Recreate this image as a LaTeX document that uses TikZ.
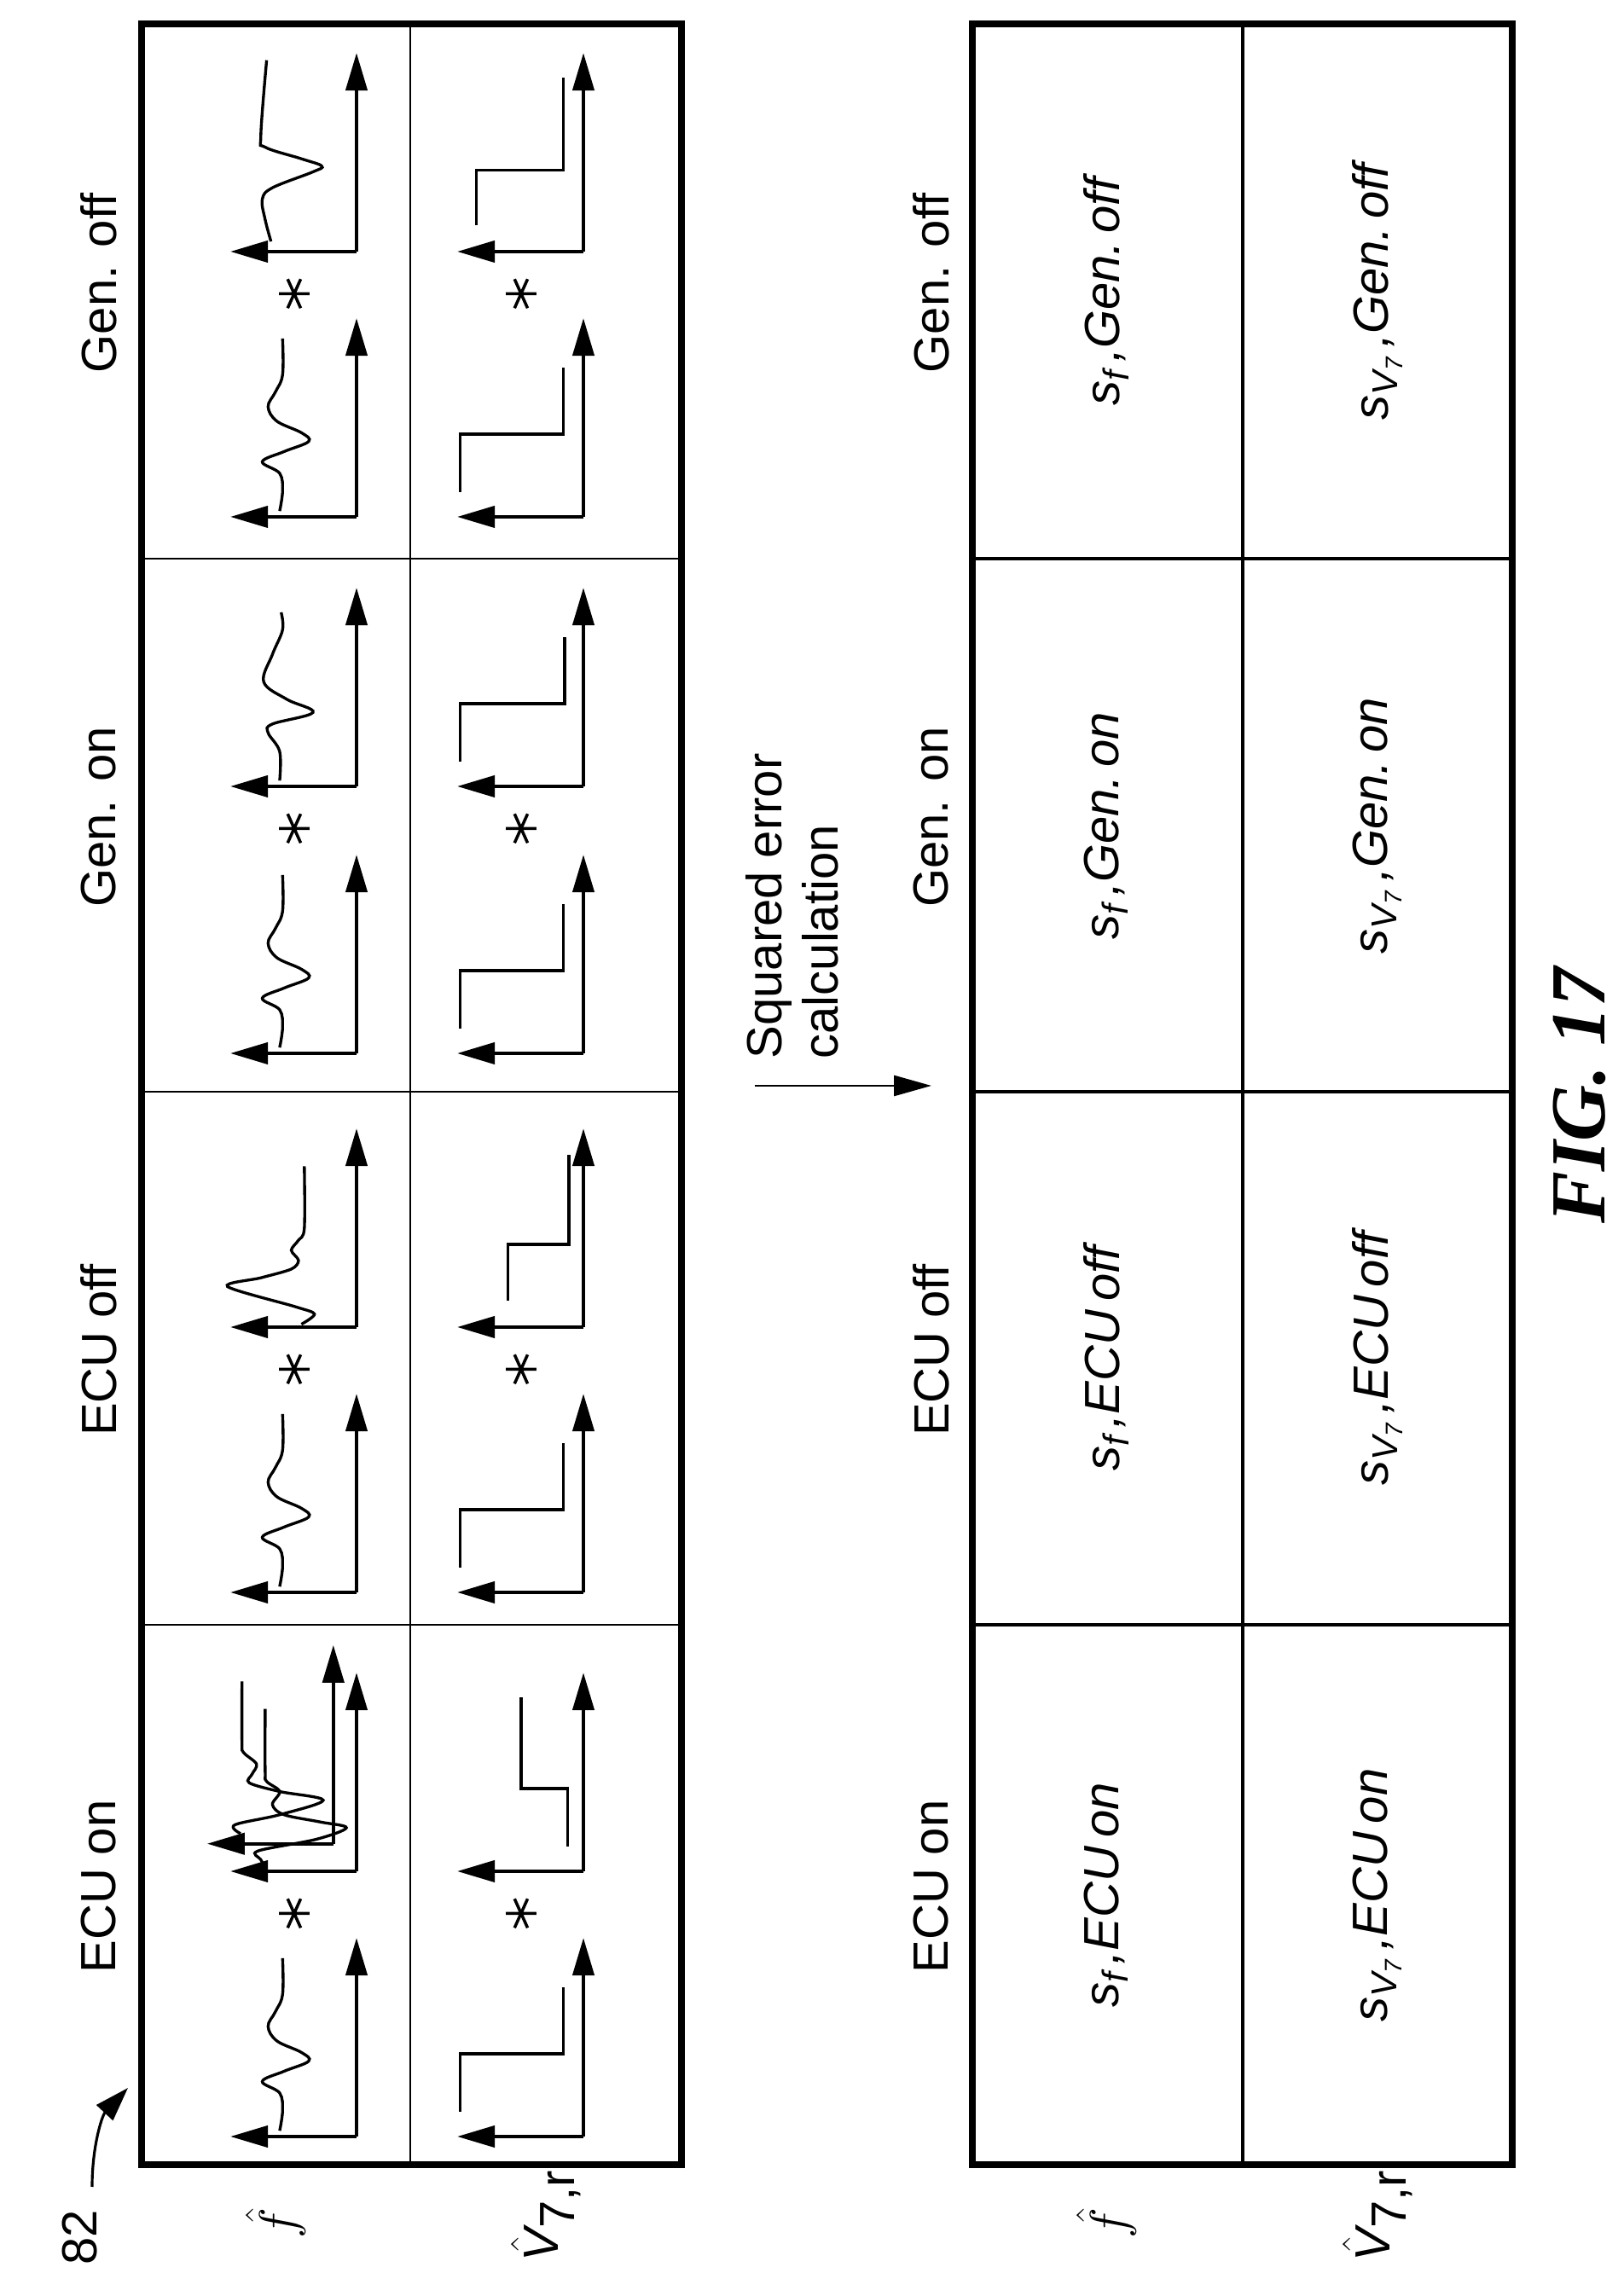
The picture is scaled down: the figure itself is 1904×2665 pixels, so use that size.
\documentclass[tikz,border=0pt]{standalone}
\usepackage{fontspec}
\setmainfont{Liberation Sans}
\newfontfamily\figfont{Liberation Serif}
\usetikzlibrary{arrows.meta}
\tikzset{
  ax/.style={line width=1.2pt,-{Triangle[length=4.4mm,width=2.5mm]}},
  crv/.style={line width=0.95pt},
  outer/.style={line width=2.2pt},
  thin/.style={line width=0.6pt},
  mid/.style={line width=1.1pt},
  lab/.style={font=\fontsize{16.5}{18.5}\selectfont, inner sep=0pt},
  cell/.style={font=\fontsize{16.5}{18.5}\selectfont\itshape, inner sep=0pt},
}
\newcommand{\axset}[2]{\draw[ax] (#1,#2) -- ++(0,87); \draw[ax] (#1,#2) -- ++(137,0);}
\newcommand{\fone}{\draw[crv] plot[smooth,tension=0.6] coordinates {(4,53) (18,51) (30,53) (38,65) (45,50) (52,33) (58,38) (66,55) (76,61) (86,56) (98,51) (123,51)};}
\newcommand{\vstep}[5]{\draw[crv] (#1,#2) -- (#3,#2) -- (#3,#4) -- (#5,#4);}
\newcommand{\astar}{\draw[line width=1pt] (0,-10.5) -- (0,10.5) (-10,-4.5) -- (10,4.5) (-10,4.5) -- (10,-4.5);}
\newcommand{\sub}[1]{\raisebox{-0.35ex}{\fontsize{12}{12}\selectfont #1}}
\begin{document}
\begin{tikzpicture}[x=0.1mm,y=0.1mm]
\useasboundingbox (0,0) rectangle (1904,2665);
\begin{scope}[rotate=90]
% reading frame: u = 2665 - y, v = -x
% top table
\draw[thin] (127,-481) -- (2637,-481);
\foreach \u in {760,1385,2010} \draw[thin] (\u,-166) -- (\u,-799);
\draw[outer] (127,-799) rectangle (2637,-166);
% bottom table
\draw[mid] (127,-1457) -- (2637,-1457);
\foreach \u in {760,1385,2010} \draw[mid] (\u,-1140) -- (\u,-1773);
\draw[outer] (127,-1773) rectangle (2637,-1140);
% headers
\foreach \u/\t [count=\i] in {453/ECU on,1082/ECU off,1707/Gen. on,2333/Gen. off}{
  \node[lab,rotate=90] (ht\i) at (\u,-116) {\t};
  \node[lab,rotate=90] (hb\i) at (\u,-1092) {\t};
}
% row labels
\node[lab,rotate=90] (rf1) at (58,-323) {$\hat{f}$};
\node[lab,rotate=90] (rv1) at (68,-640) {$\hat{\textit{V}}_{\textrm{7,r}}$};
\node[lab,rotate=90] (rf2) at (58,-1297) {$\hat{f}$};
\node[lab,rotate=90] (rv2) at (68,-1615) {$\hat{\textit{V}}_{\textrm{7,r}}$};
% 82
\node[lab,rotate=90] (n82) at (42,-94) {82};
\coordinate (a82) at (217,-150);
\draw[line width=0.9pt,-{Triangle[length=4mm,width=2.6mm]}] (101,-108) .. controls (150,-108) and (185,-120) .. (a82);
% bottom cells
\foreach \u/\t [count=\i] in {443/ECU\,on,1072/ECU\,off,1697/Gen.\,on,2323/Gen.\,off}{
  \node[cell,rotate=90] (cf\i) at (\u,-1297) {s\sub{\textit{f}}\,,\t};
  \node[cell,rotate=90] (cv\i) at (\u,-1615) {s\sub{V\textsubscript{7}}\,,\t};
}
% squared error arrow
\node[lab,rotate=90,anchor=base west,align=left] (sq) at (1423,-982) {Squared error\\calculation};
\coordinate (sqa) at (1392,-885);
\coordinate (sqb) at (1392,-1092);
\draw[line width=0.8pt,-{Triangle[length=4.4mm,width=2.4mm]}] (sqa) -- (sqb);
% FIG
\node[rotate=90,inner sep=0pt,font=\figfont\bfseries\itshape\fontsize{26}{28}\selectfont] (fig) at (1380,-1852) {FIG. 17};
% ---------- plots ----------
\foreach \u in {160,798,1430,2059}{
  \begin{scope}[shift={(\u,-418)},scale=1.7] \axset{0}{0} \fone \end{scope}
  \begin{scope}[shift={(\u,-684)},scale=1.7] \axset{0}{0} \vstep{17}{85}{57}{14}{103} \end{scope}
}
\foreach \u in {471,1109,1743,2370}{
  \begin{scope}[shift={(\u,-418)},scale=1.7] \begin{scope}[shift={(-29,43)}] \astar \end{scope}\end{scope}
  \begin{scope}[shift={(\u,-684)},scale=1.7] \begin{scope}[shift={(-29,43)}] \astar \end{scope}\end{scope}
}
% ECU on plot2
\begin{scope}[shift={(471,-418)},scale=1.7]
  \axset{0}{0} \axset{19}{16}
  \draw[crv] plot[smooth,tension=0.55] coordinates {(1,62) (8,66) (14,68) (22,28) (30,7) (34,25) (39,50) (46,58) (55,53) (62,62) (69,63) (112,63)};
  \draw[crv] plot[smooth,tension=0.55] coordinates {(26,80) (32,84) (39,53) (49,23) (55,53) (61,74) (67,72) (74,69) (82,78) (89,79) (131,79)};
\end{scope}
\begin{scope}[shift={(471,-684)},scale=1.7] \axset{0}{0} \vstep{17}{11}{57}{43}{120} \end{scope}
% ECU off plot2
\begin{scope}[shift={(1109,-418)},scale=1.7]
  \axset{0}{0}
  \draw[crv] plot[smooth,tension=0.5] coordinates {(2,38) (9,29) (14,42) (28,89) (34,66) (40,45) (46,40) (53,45) (60,40) (68,36) (111,36)};
\end{scope}
\begin{scope}[shift={(1109,-684)},scale=1.7] \axset{0}{0} \vstep{18}{52}{57}{10}{119} \end{scope}
% Gen on plot2
\begin{scope}[shift={(1743,-418)},scale=1.7]
  \axset{0}{0}
  \draw[crv] plot[smooth,tension=0.6] coordinates {(4,53) (24,53) (37,61) (43,58) (51,30) (60,48) (72,64) (91,58) (108,51) (120,52)};
\end{scope}
\begin{scope}[shift={(1743,-684)},scale=1.7] \axset{0}{0} \vstep{17}{85}{57}{13}{103} \end{scope}
% Gen off plot2
\begin{scope}[shift={(2370,-418)},scale=1.7]
  \axset{0}{0}
  \draw[crv] plot[smooth,tension=0.6] coordinates {(7,59) (22,63) (36,65) (44,58) (55,30) (59,24) (64,38) (72,63) (80,66) (132,62)};
\end{scope}
\begin{scope}[shift={(2370,-684)},scale=1.7] \axset{0}{0} \vstep{18}{74}{56}{14}{120} \end{scope}
\end{scope}
\end{tikzpicture}
\end{document}
